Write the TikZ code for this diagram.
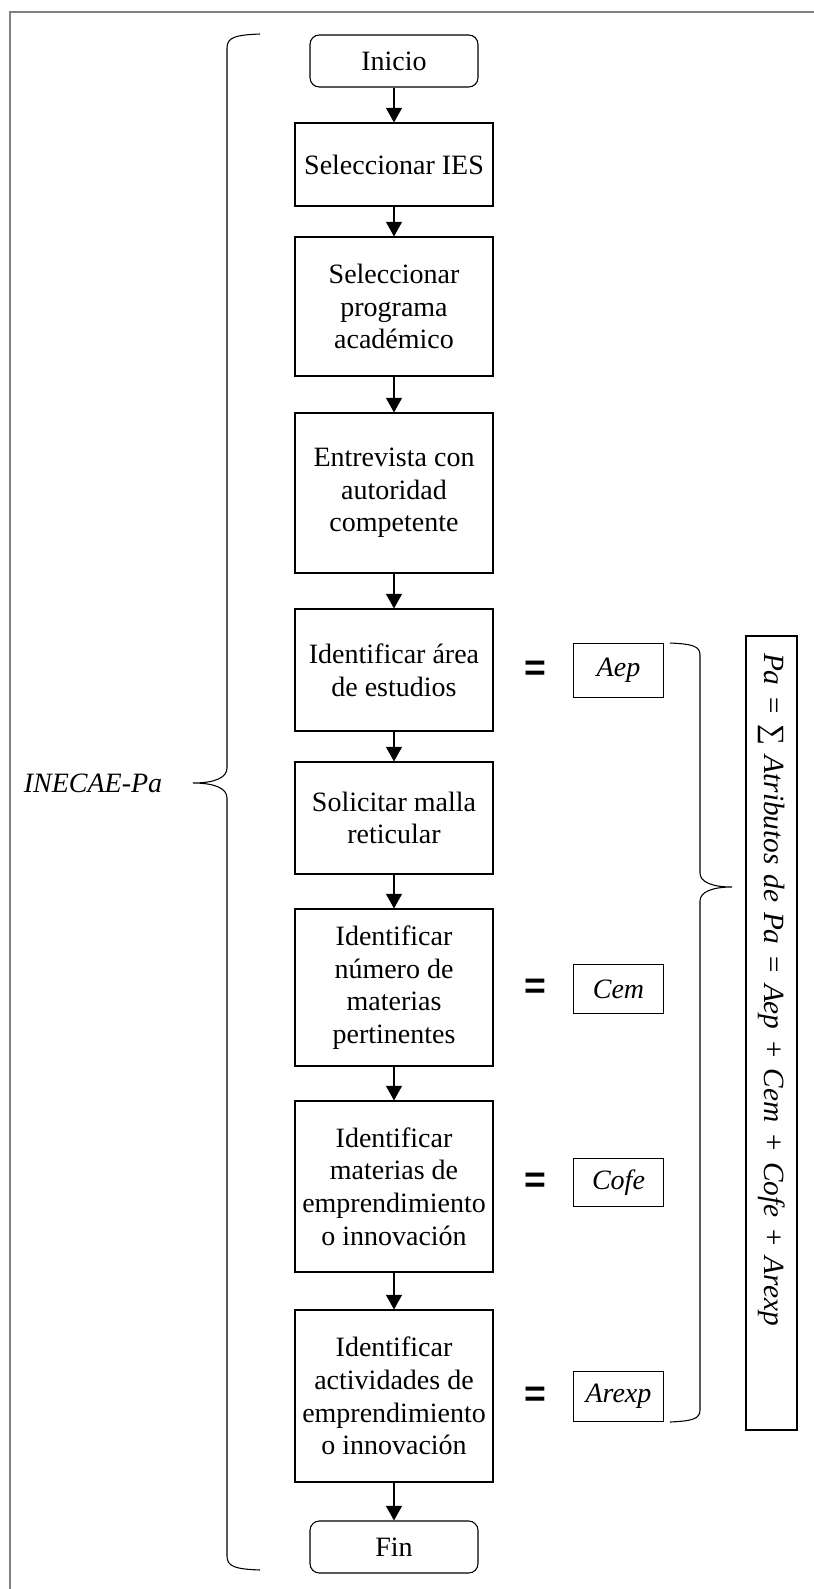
\documentclass[tikz,border=0pt]{standalone}
\usepackage{fontspec}
\setmainfont{Liberation Serif}
\setsansfont{Liberation Sans}
\usetikzlibrary{arrows.meta,positioning}

\begin{document}
\begin{tikzpicture}[x=0.75pt, y=-0.75pt,
  stepbox/.style={draw, line width=0.8pt, minimum width=148.5pt, align=center,
    inner sep=2pt, font=\fontsize{21}{24.5}\selectfont},
  endbox/.style={draw, line width=0.8pt, rounded corners=7pt, minimum width=126pt,
    minimum height=39pt, font=\fontsize{21}{24.5}\selectfont},
  attrbox/.style={draw, line width=0.6pt, minimum width=68pt, minimum height=39pt,
    font=\fontsize{21}{24.5}\selectfont\itshape},
  eqsign/.style={font=\sffamily\bfseries\fontsize{28}{28}\selectfont},
  bigbox/.style={draw, line width=2pt, rotate=-90, minimum width=595.5pt,
    minimum height=38.25pt, text width=570pt, inner xsep=12pt, align=left,
    font=\fontsize{22}{26}\selectfont\itshape},
  arr/.style={-{Triangle[length=11pt,width=12pt]}, line width=1pt}]

\useasboundingbox (0,0) rectangle (814,1589);

% Frame
\draw[gray, line width=0.8pt] (10,1589) -- (10,12) -- (814,12);

% Main column
\node[endbox] (ini) at (394,61) {Inicio};
\node[stepbox, minimum height=62.25pt] (ies) at (394,164.5) {Seleccionar IES};
\node[stepbox, minimum height=104.25pt] (prog) at (394,306.5)
  {Seleccionar\\programa\\académico};
\node[stepbox, minimum height=120pt] (entr) at (394,493)
  {Entrevista con\\autoridad\\competente};
\node[stepbox, minimum height=91.5pt] (area) at (394,670)
  {Identificar área\\de estudios};
\node[stepbox, minimum height=84pt] (malla) at (394,818)
  {Solicitar malla\\reticular};
\node[stepbox, minimum height=117.75pt] (num) at (394,987.5)
  {Identificar\\número de\\materias\\pertinentes};
\node[stepbox, minimum height=128.25pt] (mat) at (394,1186.5)
  {Identificar\\materias de\\emprendimiento\\o innovación};
\node[stepbox, minimum height=129pt] (act) at (394,1396)
  {Identificar\\actividades de\\emprendimiento\\o innovación};
\node[endbox] (fin) at (394,1547) {Fin};

% Arrows
\draw[arr] (ini) -- (ies);
\draw[arr] (ies) -- (prog);
\draw[arr] (prog) -- (entr);
\draw[arr] (entr) -- (area);
\draw[arr] (area) -- (malla);
\draw[arr] (malla) -- (num);
\draw[arr] (num) -- (mat);
\draw[arr] (mat) -- (act);
\draw[arr] (act) -- (fin);

% Attributes
\node[eqsign] (eq1) at (535,670.5) {=};
\node[eqsign] (eq2) at (535,989) {=};
\node[eqsign] (eq3) at (535,1182.5) {=};
\node[eqsign] (eq4) at (535,1396.5) {=};
\node[attrbox, minimum height=41pt] (aep) at (618.5,670.5) {Aep};
\node[attrbox, minimum height=37pt] (cem) at (618.5,989) {Cem};
\node[attrbox, minimum height=36pt] (cofe) at (618.5,1182.5) {Cofe};
\node[attrbox, minimum height=38pt] (arexp) at (618.5,1396.5) {Arexp};

% Braces
\draw[line width=0.8pt] (260,34) .. controls (236,35) and (227,37) .. (227,48)
  -- (227,768) .. controls (227,778) and (214,783) .. (193,783)
  .. controls (214,783) and (227,788) .. (227,798)
  -- (227,1556) .. controls (227,1567) and (236,1569) .. (260,1570);
\draw[line width=0.8pt] (670,643) .. controls (692,644) and (700,646) .. (700,655)
  -- (700,873) .. controls (700,882) and (712,887) .. (732,887)
  .. controls (712,887) and (700,892) .. (700,901)
  -- (700,1410) .. controls (700,1419) and (692,1421) .. (670,1422);
\node[font=\fontsize{21}{24.5}\selectfont\itshape] (inecae) at (93,783) {INECAE-Pa};

% Sum of attributes
\node[bigbox] (pabox) at (771.5,1033)
  {Pa = {\upshape ∑} Atributos de Pa = Aep + Cem + Cofe + Arexp};

\end{tikzpicture}
\end{document}
